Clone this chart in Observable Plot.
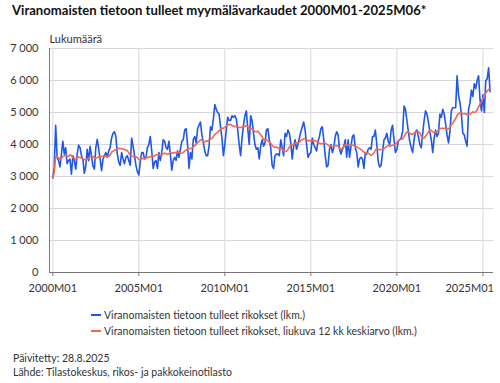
<!DOCTYPE html>
<html>
<head>
<meta charset="utf-8">
<script src="https://cdn.jsdelivr.net/npm/d3@7"></script>
<script src="https://cdn.jsdelivr.net/npm/@observablehq/plot@0.6"></script>
<style>
  html, body { margin: 0; padding: 0; background: #fff; }
  body { width: 500px; height: 383px; position: relative; overflow: hidden;
         font-family: "Segoe UI", Lato, "Open Sans", sans-serif; color: #222; }
  #title { position: absolute; left: 12px; top: 2px; font-size: 13.1px; font-weight: bold; white-space: nowrap; color: #111; }
  #chart { position: absolute; left: 0; top: 24px; }
  .leg { position: absolute; left: 91px; font-size: 10.5px; white-space: nowrap; color: #333; }
  .leg span.sw { display: inline-block; width: 10px; height: 2px; vertical-align: middle; margin-right: 3px; position: relative; top: -1px; }
  .foot { position: absolute; left: 13px; font-size: 10.5px; white-space: nowrap; color: #333; }
</style>
</head>
<body>
<div id="title">Viranomaisten tietoon tulleet myymälävarkaudet 2000M01-2025M06*</div>
<div id="chart"></div>
<div class="leg" style="top:309px"><span class="sw" id="swBlue"></span><span id="legBlue"></span></div>
<div class="leg" style="top:325px"><span class="sw" id="swRed"></span><span id="legRed"></span></div>
<div class="foot" style="top:352px" id="updated"></div>
<div class="foot" style="top:366px" id="source"></div>
<script>
// Monthly shoplifting offences reported to the authorities, 2000M01 ... 2025M06
const rikokset = [
  // 2000
  2950, 3300, 4600, 3600, 3500, 3300, 3700, 4100, 3700, 3900, 3400, 3500,
  // 2001
  3540, 3070, 3650, 3500, 3230, 3700, 3980, 3900, 3650, 3540, 3100, 3330,
  // 2002
  3850, 3490, 3940, 3640, 3330, 3230, 3900, 4160, 3870, 3540, 3180, 3540,
  // 2003
  3650, 3750, 3600, 3800, 3900, 4200, 4350, 4400, 4250, 3700, 3450, 3350,
  // 2004
  3750, 3550, 3400, 3600, 3650, 3500, 3350, 4200, 3950, 3650, 3350, 3150,
  // 2005
  3050, 3450, 3750, 3750, 3550, 3600, 3900, 4000, 4250, 3800, 3250, 3450,
  // 2006
  3500, 3250, 3750, 3500, 3750, 4150, 4100, 3900, 3850, 4100, 3700, 3200,
  // 2007
  3500, 3600, 3500, 3800, 3600, 3850, 4100, 4150, 4450, 4500, 4000, 3250,
  // 2008
  3750, 3550, 4150, 4250, 4050, 4500, 4600, 4700, 4300, 4050, 3800, 3650,
  // 2009
  3650, 3950, 4550, 4450, 4800, 5250, 5100, 5000, 4950, 4550, 4200, 3650,
  // 2010
  4000, 4450, 4850, 4750, 4750, 4900, 4850, 4900, 4800, 4450, 4000, 3650,
  // 2011
  4200, 4600, 4900, 5050, 4500, 4000, 4900, 4750, 4350, 4000, 3850, 3900,
  // 2012
  3550, 3950, 4150, 3950, 4050, 4450, 4500, 4150, 3900, 3350, 3250, 3650,
  // 2013
  3700, 3700, 3650, 4150, 3900, 3650, 4350, 4250, 4450, 4350, 4050, 3550,
  // 2014
  3950, 4150, 3850, 4000, 4200, 4400, 4550, 4700, 4450, 4000, 3600, 3700,
  // 2015
  3750, 4200, 4000, 3900, 3800, 4100, 4250, 4500, 4550, 4150, 3650, 3300,
  // 2016
  3350, 3850, 4000, 3750, 3900, 4250, 4400, 4300, 3850, 3700, 3850, 3950,
  // 2017
  4150, 3600, 4150, 3600, 3950, 4250, 4300, 3900, 3750, 3300, 3550, 3600,
  // 2018
  3550, 3250, 3750, 3700, 3850, 3900, 3850, 4250, 4250, 4450, 4000, 3450,
  // 2019
  3300, 3350, 3750, 4150, 4200, 4350, 4100, 4000, 4450, 4600, 4150, 3750,
  // 2020
  3850, 4100, 4150, 4200, 4400, 5200, 5100, 4750, 4400, 4100, 3900, 3750,
  // 2021
  4150, 4400, 4450, 4250, 4000, 3900, 4350, 4750, 5050, 4950, 4700, 4400,
  // 2022
  4150, 3750, 4200, 4450, 4250, 4350, 4950, 4850, 5100, 4950, 4650, 4300,
  // 2023
  4050, 4400, 5050, 5150, 5150, 5150, 6150, 5550, 5300, 4950, 4350, 4300,
  // 2024
  4100, 3950, 5100, 5300, 5700, 5500, 5900, 5750, 6000, 6150, 5400, 5050,
  // 2025
  5550, 5000, 6000, 6050, 6400, 5650
];
const firstYear = 2000;
const windowMonths = 12;
const tickLabels = ["2000M01", "2005M01", "2010M01", "2015M01", "2020M01", "2025M01"];
const yTicks = [0, 1000, 2000, 3000, 4000, 5000, 6000, 7000];
const seriesNames = [
  "Viranomaisten tietoon tulleet rikokset (lkm.)",
  "Viranomaisten tietoon tulleet rikokset, liukuva 12 kk keskiarvo (lkm.)"
];
const yLabel = "Lukumäärä";
const updated = "Päivitetty: 28.8.2025";
const source = "Lähde: Tilastokeskus, rikos- ja pakkokeinotilasto";

const BLUE = "#1f57ec";
const RED = "#f4694e";
const FONT = "'Segoe UI', Lato, 'Open Sans', sans-serif";

const data = rikokset.map((v, i) => ({i, v}));
const tickIdx = tickLabels.map(s => (+s.slice(0, 4) - firstYear) * 12 + (+s.slice(5) - 1));
const labelOf = new Map(tickIdx.map((t, k) => [t, tickLabels[k]]));
const xDomain = [-2.3, rikokset.length + 1.4];
const fmt = d => d3.format(",")(d).replace(/,/g, "\u00a0");

const chart = Plot.plot({
  width: 500,
  height: 276,
  marginTop: 24,
  marginBottom: 28,
  marginLeft: 49,
  marginRight: 7,
  style: {fontFamily: FONT, fontSize: "11px", color: "#333", background: "transparent", overflow: "visible"},
  x: {type: "linear", domain: xDomain},
  y: {domain: [0, 7000]},
  marks: [
    Plot.gridY(yTicks, {stroke: "#d9d9d9", strokeOpacity: 1}),
    Plot.gridX(tickIdx, {stroke: "#d9d9d9", strokeOpacity: 1}),
    Plot.axisY(yTicks, {tickSize: 0, tickPadding: 11, tickFormat: fmt, label: null, fill: "#333"}),
    // tick marks
    Plot.axisX(tickIdx, {tickSize: 4, tickFormat: () => "", label: null, stroke: "#777"}),
    // tick labels (the last one is kept inside the picture)
    Plot.axisX(tickIdx.slice(0, -1), {tickSize: 0, tickPadding: 12, tickFormat: d => labelOf.get(d), label: null, fill: "#333"}),
    Plot.axisX(tickIdx.slice(-1), {tickSize: 0, tickPadding: 12, tickFormat: d => labelOf.get(d), label: null, fill: "#333", textAnchor: "end", dx: 11}),
    Plot.ruleY([0], {stroke: "#777"}),
    Plot.ruleX([xDomain[0]], {stroke: "#777"}),
    Plot.lineY(data, {x: "i", y: "v", stroke: BLUE, strokeWidth: 1.6}),
    Plot.lineY(data, Plot.windowY({k: windowMonths, anchor: "end", reduce: "mean"}, {x: "i", y: "v", stroke: RED, strokeWidth: 1.6})),
    Plot.text([yLabel], {frameAnchor: "top-left", text: d => d, textAnchor: "start", lineAnchor: "bottom", dy: -6, fill: "#333"})
  ]
});
document.getElementById("chart").append(chart);

document.getElementById("swBlue").style.background = BLUE;
document.getElementById("swRed").style.background = RED;
document.getElementById("legBlue").textContent = seriesNames[0];
document.getElementById("legRed").textContent = seriesNames[1];
document.getElementById("updated").textContent = updated;
document.getElementById("source").textContent = source;
</script>
</body>
</html>
